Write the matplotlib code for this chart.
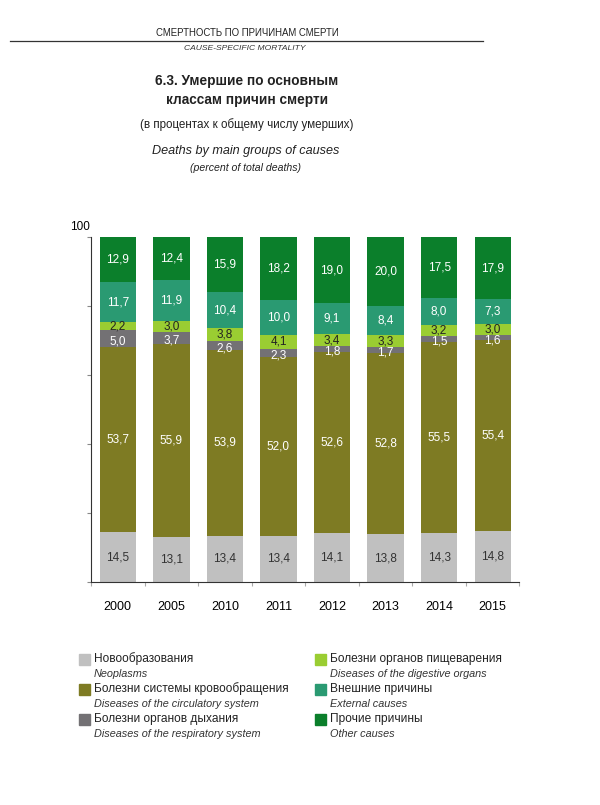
import matplotlib
matplotlib.use("Agg")
import matplotlib.pyplot as plt
import numpy as np

plt.rcParams['font.family'] = ['Liberation Sans', 'DejaVu Sans']

years = ['2000', '2005', '2010', '2011', '2012', '2013', '2014', '2015']
neoplasms = [14.5, 13.1, 13.4, 13.4, 14.1, 13.8, 14.3, 14.8]
circulatory = [53.7, 55.9, 53.9, 52.0, 52.6, 52.8, 55.5, 55.4]
respiratory = [5.0, 3.7, 2.6, 2.3, 1.8, 1.7, 1.5, 1.6]
digestive = [2.2, 3.0, 3.8, 4.1, 3.4, 3.3, 3.2, 3.0]
external = [11.7, 11.9, 10.4, 10.0, 9.1, 8.4, 8.0, 7.3]
other = [12.9, 12.4, 15.9, 18.2, 19.0, 20.0, 17.5, 17.9]

series = [neoplasms, circulatory, respiratory, digestive, external, other]
names_ru = ['Новообразования', 'Болезни системы кровообращения', 'Болезни органов дыхания',
            'Болезни органов пищеварения', 'Внешние причины', 'Прочие причины']
names_en = ['Neoplasms', 'Diseases of the circulatory system', 'Diseases of the respiratory system',
            'Diseases of the digestive organs', 'External causes', 'Other causes']
colors = ['#c0c0c0', '#7e7b23', '#737174', '#9acd32', '#2a9a72', '#0b7f2b']
label_colors = ['#333333', 'white', 'white', '#222222', 'white', 'white']
label_shift = [0, 0, -0.8, 0, 0, 0]

W, H = 600, 805
fig = plt.figure(figsize=(6, 8.05), dpi=100)

def fx(x):
    return x / W

def fy(y):
    return 1 - y / H

ax = fig.add_axes([fx(91), fy(582), fx(519.5) - fx(91), fy(237.5) - fy(582)])
x = np.arange(len(years))
bottom = np.zeros(len(years))
for vals, c, lc, sh in zip(series, colors, label_colors, label_shift):
    v = np.array(vals)
    ax.bar(x, v, bottom=bottom, width=0.68, color=c, edgecolor='none', zorder=2)
    for xi, b, vi in zip(x, bottom, v):
        ax.text(xi, b + vi / 2 + sh, f'{vi:.1f}'.replace('.', ','), ha='center', va='center',
                color=lc, fontsize=8.5, zorder=3)
    bottom += v

ax.set_xlim(-0.5, 7.5)
ax.set_ylim(0, 100)
for s in ['top', 'right']:
    ax.spines[s].set_visible(False)
ax.spines['left'].set_color('#333333')
ax.spines['bottom'].set_color('#333333')
ax.set_yticks([0, 20, 40, 60, 80, 100])
ax.set_yticklabels([])
ax.tick_params(axis='y', length=3, width=0.8, color='#888888')
ax.set_xticks(x)
ax.set_xticklabels(years, fontsize=9)
ax.tick_params(axis='x', length=0, pad=14)
ax.set_xticks(np.arange(-0.5, 8, 1), minor=True)
ax.tick_params(axis='x', which='minor', length=3, width=0.8, color='#aaaaaa')
fig.text(fx(80), fy(227), '100', ha='center', va='center', fontsize=8.5)

# headers
fig.text(fx(247), fy(33), 'СМЕРТНОСТЬ ПО ПРИЧИНАМ СМЕРТИ', ha='center', va='center', fontsize=6.9, color='#222222')
fig.add_artist(plt.Line2D([fx(10), fx(483)], [fy(41.5), fy(41.5)], color='#333333', lw=0.9))
fig.text(fx(245), fy(49), 'CAUSE-SPECIFIC MORTALITY', ha='center', va='center', fontsize=6.1,
         style='italic', color='#333333')
fig.text(fx(247), fy(81), '6.3. Умершие по основным', ha='center', va='center', fontsize=9.8,
         weight='bold', color='#222222')
fig.text(fx(247), fy(100), 'классам причин смерти', ha='center', va='center', fontsize=9.8,
         weight='bold', color='#222222')
fig.text(fx(247), fy(125), '(в процентах к общему числу умерших)', ha='center', va='center',
         fontsize=8.35, color='#222222')
fig.text(fx(246), fy(151), 'Deaths by main groups of causes', ha='center', va='center',
         fontsize=9.1, style='italic', color='#222222')
fig.text(fx(246), fy(168), '(percent of total deaths)', ha='center', va='center',
         fontsize=7.6, style='italic', color='#222222')

# legend
rows_y = [659, 689, 719]
for i in range(6):
    col = i // 3
    row = i % 3
    sx = 79 if col == 0 else 315
    tx = 94 if col == 0 else 330
    y = rows_y[row]
    fig.add_artist(plt.Rectangle((fx(sx), fy(y + 6)), fx(11), fy(0) - fy(11), color=colors[i],
                                 transform=fig.transFigure))
    fig.text(fx(tx), fy(y), names_ru[i], ha='left', va='center', fontsize=8.6, color='#222222')
    fig.text(fx(tx), fy(y + 15), names_en[i], ha='left', va='center', fontsize=7.8,
             style='italic', color='#333333')

fig.savefig('out.png', dpi=100, facecolor='white')
